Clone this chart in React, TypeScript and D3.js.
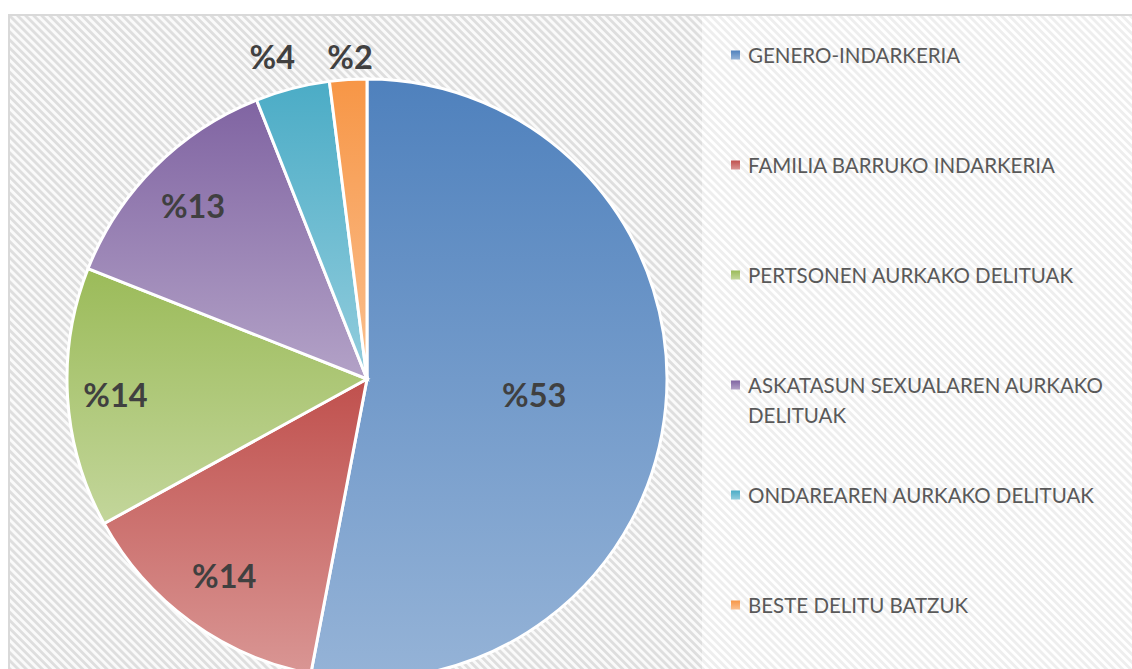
import React from "react";
import * as d3 from "d3";

const categories = [
  "GENERO-INDARKERIA",
  "FAMILIA BARRUKO INDARKERIA",
  "PERTSONEN AURKAKO DELITUAK",
  "ASKATASUN SEXUALAREN AURKAKO DELITUAK",
  "ONDAREAREN AURKAKO DELITUAK",
  "BESTE DELITU BATZUK",
];
const values = [53, 14, 14, 13, 4, 2];
const labels = ["%53", "%14", "%14", "%13", "%4", "%2"];
const legendLines = [
  ["GENERO-INDARKERIA"],
  ["FAMILIA BARRUKO INDARKERIA"],
  ["PERTSONEN AURKAKO DELITUAK"],
  ["ASKATASUN SEXUALAREN AURKAKO", "DELITUAK"],
  ["ONDAREAREN AURKAKO DELITUAK"],
  ["BESTE DELITU BATZUK"],
];

const darkColors = ["#4f81bd", "#c0504d", "#9bbb59", "#8064a2", "#4bacc6", "#f79646"];
const lightColors = ["#95b3d7", "#d99694", "#c3d69b", "#b3a2c7", "#93cddd", "#fac090"];
// label radius as fraction of pie radius
const labelRadiusFactor = [0.56, 0.81, 0.84, 0.82, 1.27, 0.9];

const W = 1132;
const H = 669;
const cx = 367;
const cy = 379;
const R = 300;

export default function App() {
  const pie = d3.pie<number>().sort(null).value((d) => d)(values);
  const arc = d3.arc<d3.PieArcDatum<number>>().innerRadius(0).outerRadius(R);
  const legendY = d3.scaleLinear().domain([0, 5]).range([55, 605]);

  return (
    <svg
      width={W}
      height={H}
      style={{ position: "absolute", left: 0, top: 0, background: "#ffffff" }}
    >
      <defs>
        <pattern id="hatchLight" patternUnits="userSpaceOnUse" width="5.7" height="5.7" patternTransform="rotate(-45)">
          <rect width="5.7" height="5.7" fill="#ffffff" />
          <rect width="2.8" height="5.7" fill="#eeeeee" />
        </pattern>
        <pattern id="hatchDark" patternUnits="userSpaceOnUse" width="5.7" height="5.7" patternTransform="rotate(-45)">
          <rect width="5.7" height="5.7" fill="#fafafa" />
          <rect width="2.8" height="5.7" fill="#dedede" />
        </pattern>
        {darkColors.map((c, i) => (
          <linearGradient key={i} id={`g${i}`} x1="0" y1="0" x2="0" y2="1">
            <stop offset="0" stopColor={c} />
            <stop offset="1" stopColor={lightColors[i]} />
          </linearGradient>
        ))}
      </defs>
      <rect x={9} y={15} width={W} height={H} fill="url(#hatchLight)" stroke="#d9d9d9" strokeWidth={2} />
      <rect x={10} y={16} width={692} height={H} fill="url(#hatchDark)" />
      <g transform={`translate(${cx},${cy})`}>
        {pie.map((p, i) => (
          <path key={i} d={arc(p) || ""} fill={`url(#g${i})`} stroke="#ffffff" strokeWidth={3} />
        ))}
        {pie.map((p, i) => {
          const a = (p.startAngle + p.endAngle) / 2;
          const r = R * labelRadiusFactor[i];
          const x = Math.sin(a) * r;
          const y = i >= 4 ? -R - 23 : -Math.cos(a) * r;
          return (
            <text
              key={i}
              x={x}
              y={y}
              textAnchor="middle"
              dominantBaseline="central"
              fontFamily="Lato, 'Open Sans', sans-serif"
              fontWeight={700}
              fontSize={32.5}
              fill="#404040"
            >
              {labels[i]}
            </text>
          );
        })}
      </g>
      {categories.map((c, i) => (
        <g key={c} transform={`translate(0,${legendY(i)})`}>
          <rect x={731} y={-4.5} width={9} height={9} fill={`url(#g${i})`} />
          {legendLines[i].map((line, j) => (
            <text
              key={j}
              x={748}
              y={j * 30}
              dominantBaseline="central"
              fontFamily="Lato, 'Open Sans', sans-serif"
              fontSize={20.5}
              fill="#595959"
            >
              {line}
            </text>
          ))}
        </g>
      ))}
    </svg>
  );
}
